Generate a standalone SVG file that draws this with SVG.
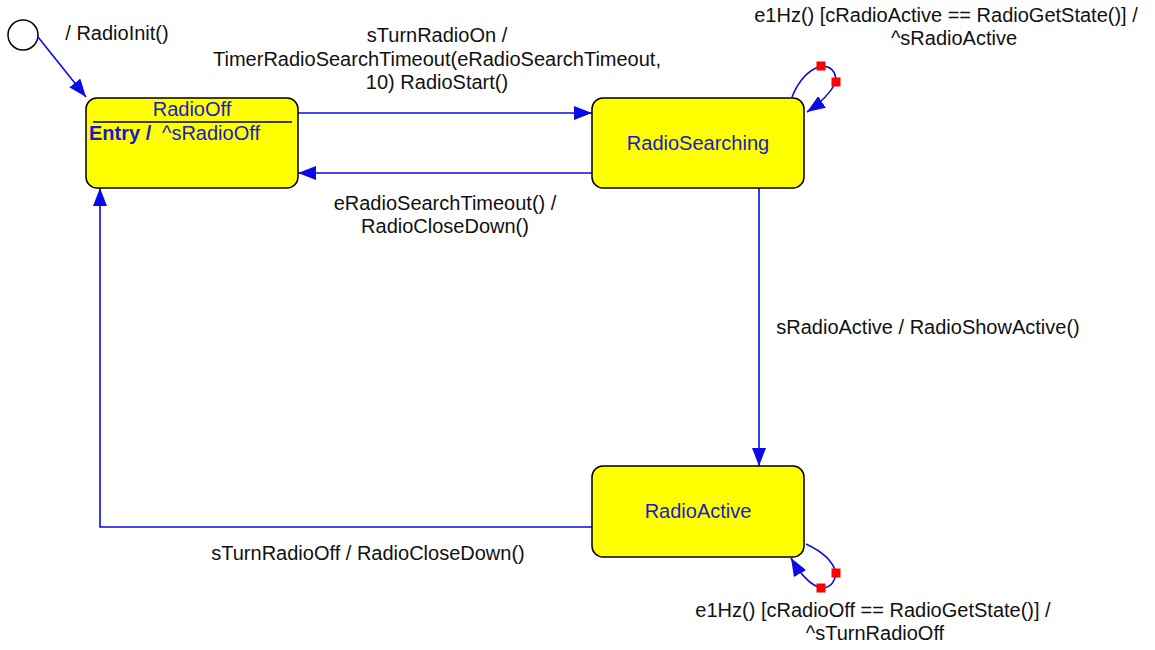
<svg xmlns="http://www.w3.org/2000/svg" width="1155" height="650" viewBox="0 0 1155 650">
  <style>
    .state { fill: #ffff00; stroke: #000; stroke-width: 1.5; }
    .name { font-family: "Liberation Sans", Arial, sans-serif; font-size: 20px; fill: #1a1acc; text-anchor: middle; }
    .entry { font-family: "Liberation Sans", Arial, sans-serif; font-size: 20px; fill: #1a1acc; }
    .lbl { font-family: "Liberation Sans", Arial, sans-serif; font-size: 20px; fill: #111; text-anchor: middle; }
    .edge { fill: none; stroke: #0a0ae6; stroke-width: 1.6; }
    .handle { fill: #ff0000; }
  </style>
  <defs>
    <marker id="arrow" markerUnits="userSpaceOnUse" markerWidth="19" markerHeight="14" refX="18" refY="7" orient="auto">
      <path d="M0,0 L18,7 L0,14 z" fill="#0a0ae6"/>
    </marker>
  </defs>
  <rect width="1155" height="650" fill="#fff"/>

  <!-- initial pseudo-state -->
  <g id="initial">
    <circle cx="23" cy="35" r="15" fill="#fff" stroke="#000" stroke-width="1.5"/>
  </g>

  <!-- transitions -->
  <g id="connectors">
    <path class="edge" d="M38,37 L86,97" marker-end="url(#arrow)"/>
    <path class="edge" d="M298,113 L592,113" marker-end="url(#arrow)"/>
    <path class="edge" d="M592,173 L298,173" marker-end="url(#arrow)"/>
    <path class="edge" d="M759,188 L759,466" marker-end="url(#arrow)"/>
    <path class="edge" d="M592,527 L100,527 L100,188" marker-end="url(#arrow)"/>
    <path class="edge" d="M792,97 Q802,72 821,66 Q836,66 836,82 Q828,98 807,112" marker-end="url(#arrow)"/>
    <path class="edge" d="M806,544 Q832,556 836,573 Q834,588 821,588 Q806,584 791,558" marker-end="url(#arrow)"/>
    <rect class="handle" x="816.5" y="61.5" width="9" height="9"/>
    <rect class="handle" x="831.5" y="77.5" width="9" height="9"/>
    <rect class="handle" x="831.5" y="568.5" width="9" height="9"/>
    <rect class="handle" x="816.5" y="583.5" width="9" height="9"/>

    <text class="lbl" x="117" y="40">/ RadioInit()</text>
    <text class="lbl" x="437" y="42">sTurnRadioOn /</text>
    <text class="lbl" x="437" y="66">TimerRadioSearchTimeout(eRadioSearchTimeout,</text>
    <text class="lbl" x="437" y="89">10) RadioStart()</text>
    <text class="lbl" x="445" y="210">eRadioSearchTimeout() /</text>
    <text class="lbl" x="445" y="233">RadioCloseDown()</text>
    <text class="lbl" x="928" y="334">sRadioActive / RadioShowActive()</text>
    <text class="lbl" x="368" y="560">sTurnRadioOff / RadioCloseDown()</text>
    <text class="lbl" x="946" y="22">e1Hz() [cRadioActive == RadioGetState()] /</text>
    <text class="lbl" x="954" y="45">^sRadioActive</text>
    <text class="lbl" x="873" y="617">e1Hz() [cRadioOff == RadioGetState()] /</text>
    <text class="lbl" x="875" y="640">^sTurnRadioOff</text>
  </g>

  <!-- states -->
  <g id="RadioOff">
    <rect class="state" x="86" y="98" width="212" height="90" rx="11"/>
    <line x1="93" y1="122" x2="292" y2="122" stroke="#000" stroke-width="1.5"/>
    <text class="name" x="192" y="116">RadioOff</text>
    <text class="entry" x="89" y="140" font-weight="bold">Entry /</text>
    <text class="entry" x="162" y="140">^sRadioOff</text>
  </g>
  <g id="RadioSearching">
    <rect class="state" x="592" y="98" width="212" height="90" rx="11"/>
    <text class="name" x="698" y="150">RadioSearching</text>
  </g>
  <g id="RadioActive">
    <rect class="state" x="592" y="466" width="212" height="91" rx="11"/>
    <text class="name" x="698" y="518">RadioActive</text>
  </g>
</svg>
